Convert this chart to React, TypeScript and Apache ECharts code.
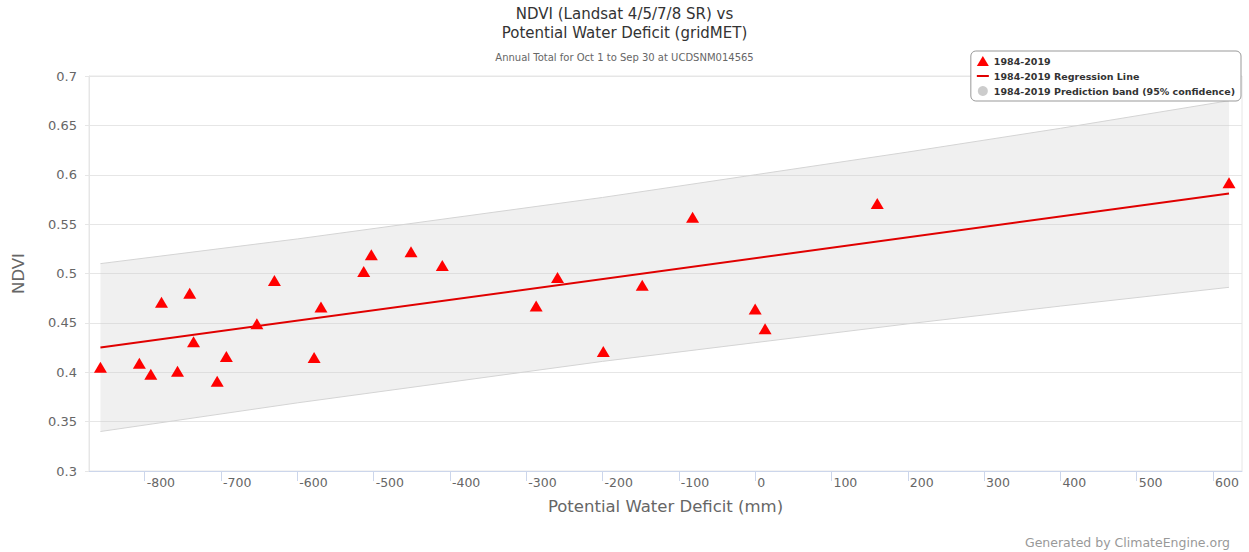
import React, { useEffect, useRef } from "react";
import * as echarts from "echarts";

const FONT = "DejaVu Sans";

const deficit = [
  -858, -807, -792, -778, -757, -741, -736, -705, -693, -653, -630, -578, -569,
  -513, -503, -451, -410, -287, -259, -199, -148, -82, 0, 13, 160, 621,
];
const ndvi = [
  0.405, 0.409, 0.398, 0.471, 0.401, 0.48, 0.431, 0.391, 0.416, 0.449, 0.493,
  0.415, 0.466, 0.502, 0.519, 0.522, 0.508, 0.467, 0.496, 0.421, 0.488, 0.557,
  0.464, 0.444, 0.571, 0.592,
];

const regX = [-858, 621];
const regY = [0.425, 0.581];

const bandX = [-858, -600, -400, -200, 0, 200, 400, 621];
const bandLower = [0.34, 0.369, 0.39, 0.411, 0.43, 0.449, 0.467, 0.486];
const bandUpper = [0.51, 0.535, 0.556, 0.577, 0.6, 0.623, 0.647, 0.675];

const xTicks = [-800, -700, -600, -500, -400, -300, -200, -100, 0, 100, 200, 300, 400, 500, 600];

const NAME_PTS = "1984-2019";
const NAME_REG = "1984-2019 Regression Line";
const NAME_BAND = "1984-2019 Prediction band (95% confidence)";

export default function App() {
  const ref = useRef<HTMLDivElement>(null);
  useEffect(() => {
    document.body.style.margin = "0";
    const chart = echarts.init(ref.current!, null, { renderer: "svg" });
    chart.setOption({
      animation: false,
      backgroundColor: "#ffffff",
      textStyle: { fontFamily: FONT },
      title: [
        {
          text: "NDVI (Landsat 4/5/7/8 SR) vs\nPotential Water Deficit (gridMET)",
          left: "center",
          top: -1,
          textStyle: { fontFamily: FONT, fontSize: 15, fontWeight: "normal", color: "#333333", lineHeight: 19, align: "center" },
        },
        {
          text: "Annual Total for Oct 1 to Sep 30 at UCDSNM014565",
          left: "center",
          top: 47,
          textStyle: { fontFamily: FONT, fontSize: 10, fontWeight: "normal", color: "#666666" },
        },
        {
          text: "Generated by ClimateEngine.org",
          right: 14,
          top: 531,
          textStyle: { fontFamily: FONT, fontSize: 12.5, fontWeight: "normal", color: "#999999" },
        },
      ],
      legend: {
        orient: "vertical",
        right: 8,
        top: 51,
        padding: [5, 6, 5, 6],
        itemGap: 5,
        itemWidth: 12,
        itemHeight: 10,
        borderColor: "#999999",
        borderWidth: 1,
        borderRadius: 5,
        backgroundColor: "#ffffff",
        textStyle: { fontFamily: FONT, fontSize: 9.5, fontWeight: "bold", color: "#333333" },
        data: [
          { name: NAME_PTS, icon: "triangle", itemStyle: { color: "red" } },
          { name: NAME_REG, icon: "path://M0,0 L12,0 L12,2 L0,2 Z", itemStyle: { color: "#e00000" } },
          { name: NAME_BAND, icon: "circle", itemStyle: { color: "#cccccc" } },
        ],
      },
      grid: {
        left: 89,
        right: 7,
        top: 76,
        bottom: 81,
        show: true,
        borderColor: "#e6e6e6",
        borderWidth: 1,
      },
      xAxis: {
        type: "value",
        min: -873,
        max: 638,
        name: "Potential Water Deficit (mm)",
        nameLocation: "middle",
        nameGap: 27,
        nameTextStyle: { fontFamily: FONT, fontSize: 16.5, color: "#666666" },
        axisLine: { show: true, onZero: false, lineStyle: { color: "#ccd6eb" } },
        axisTick: { show: true, length: 10, lineStyle: { color: "#ccd6eb" }, customValues: xTicks },
        axisLabel: {
          customValues: xTicks,
          align: "left",
          margin: 5,
          fontFamily: FONT,
          fontSize: 12.5,
          color: "#666666",
          padding: [0, 0, 0, 2],
        },
        splitLine: { show: false },
      },
      yAxis: {
        type: "value",
        min: 0.3,
        max: 0.7,
        interval: 0.05,
        name: "NDVI",
        nameLocation: "middle",
        nameGap: 62,
        nameTextStyle: { fontFamily: FONT, fontSize: 16.5, color: "#666666" },
        axisLine: { show: true, onZero: false, lineStyle: { color: "#e6e6e6" } },
        axisTick: { show: true, length: 4, lineStyle: { color: "#e6e6e6" } },
        axisLabel: { fontFamily: FONT, fontSize: 13, color: "#666666", margin: 12 },
        splitLine: { show: true, lineStyle: { color: "#e6e6e6" } },
      },
      series: [
        {
          name: NAME_BAND,
          type: "custom",
          itemStyle: { color: "#cccccc" },
          data: bandX.map((x, i) => [x, bandLower[i], bandUpper[i]]),
          encode: { x: 0, y: [1, 2] },
          z: 1,
          renderItem: (params: any, api: any) => {
            if (params.dataIndex !== 0) return null;
            const upper = bandX.map((x, i) => api.coord([x, bandUpper[i]]));
            const lower = bandX.map((x, i) => api.coord([x, bandLower[i]])).reverse();
            return {
              type: "polygon",
              shape: { points: upper.concat(lower) },
              style: { fill: "rgba(200,200,200,0.28)", stroke: "none" },
            };
          },
        },
        {
          name: "upperEdge",
          type: "line",
          data: bandX.map((x, i) => [x, bandUpper[i]]),
          showSymbol: false,
          symbol: "none",
          lineStyle: { color: "#d4d4d4", width: 1 },
          z: 2,
          silent: true,
        },
        {
          name: "lowerEdge",
          type: "line",
          data: bandX.map((x, i) => [x, bandLower[i]]),
          showSymbol: false,
          symbol: "none",
          lineStyle: { color: "#d4d4d4", width: 1 },
          z: 2,
          silent: true,
        },
        {
          name: NAME_REG,
          type: "line",
          data: regX.map((x, i) => [x, regY[i]]),
          showSymbol: false,
          symbol: "none",
          lineStyle: { color: "#e00000", width: 2 },
          z: 3,
        },
        {
          name: NAME_PTS,
          type: "scatter",
          data: deficit.map((x, i) => [x, ndvi[i]]),
          symbol: "triangle",
          symbolSize: [13, 11],
          itemStyle: { color: "red", opacity: 1 },
          z: 4,
        },
      ],
    });
    return () => chart.dispose();
  }, []);
  return <div ref={ref} style={{ width: 1249, height: 552 }} />;
}
